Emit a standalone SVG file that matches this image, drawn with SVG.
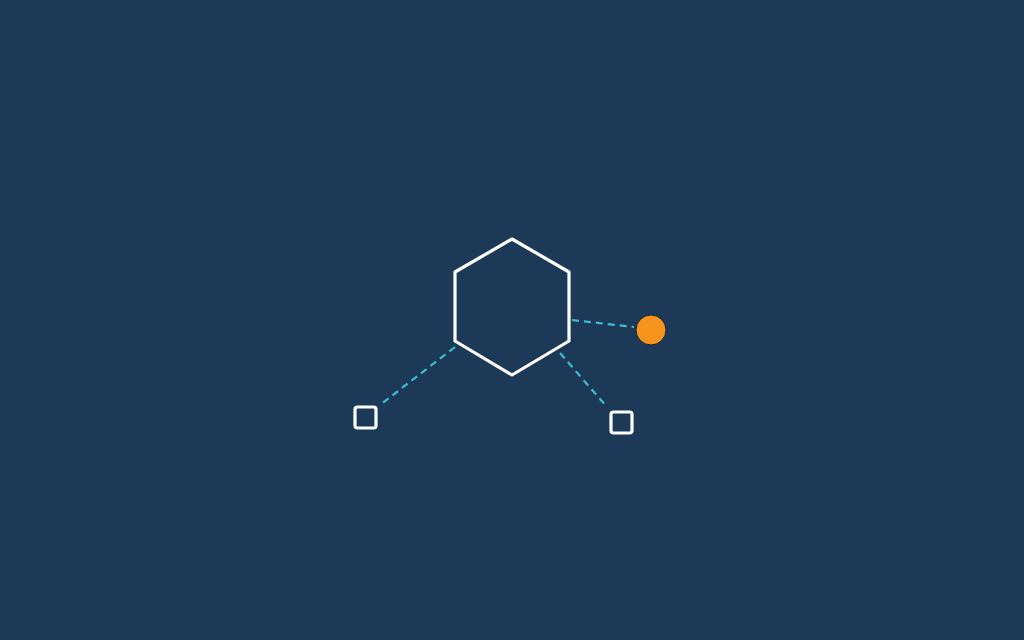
<svg xmlns="http://www.w3.org/2000/svg" width="1024" height="640" viewBox="0 0 1024 640">
<style>
.link{stroke:#3CBCD0;stroke-width:2.2;stroke-dasharray:7 5;fill:none}
.node{fill:none;stroke:#FFFFFF;stroke-width:3.2;stroke-linejoin:round}
</style>
<rect width="1024" height="640" fill="#1C3A57"/>
<g id="connectors">
<line class="link" x1="572" y1="320" x2="634" y2="327"/>
<line class="link" x1="455" y1="347" x2="380" y2="405"/>
<line class="link" x1="560" y1="353" x2="607" y2="407"/>
</g>
<g id="hexagon">
<polygon class="node" points="512,239 569,272 569,341 512,375 455,341 455,272"/>
</g>
<g id="circle">
<circle cx="651" cy="330" r="15" fill="#F7941D" stroke="#0F2436" stroke-width="1"/>
</g>
<g id="square-left">
<rect class="node" x="355" y="407" width="21" height="21" rx="2.5" stroke-width="2.6"/>
</g>
<g id="square-right">
<rect class="node" x="611" y="412" width="21" height="21" rx="2.5" stroke-width="2.6"/>
</g>
</svg>
